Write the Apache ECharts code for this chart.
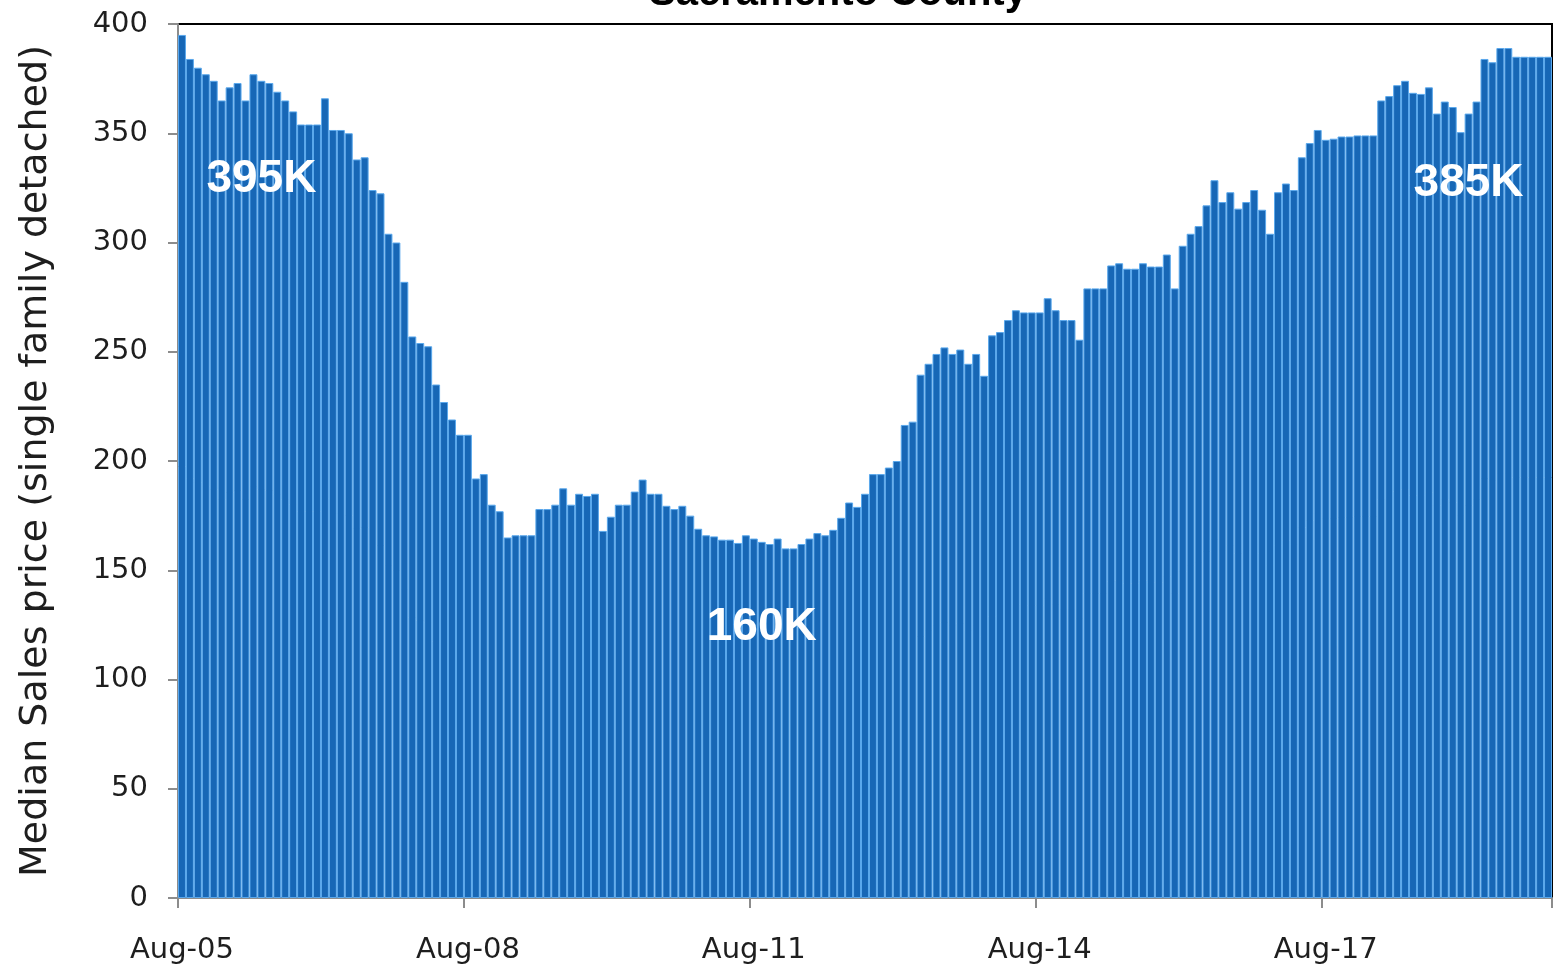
<!DOCTYPE html>
<html>
<head>
<meta charset="utf-8">
<title>Sacramento County</title>
<script src="https://cdn.jsdelivr.net/npm/echarts@6/dist/echarts.min.js"></script>
<style>
  html, body { margin: 0; padding: 0; background: #fff; }
  #chart { width: 1554px; height: 973px; }
</style>
</head>
<body>
<div id="chart"></div>
<script>
// Monthly median sales price, single family detached, in $K, starting Aug 2005
const startYear = 2005;
const startMonth = 7; // 0-based: August
const monthNames = ['Jan', 'Feb', 'Mar', 'Apr', 'May', 'Jun', 'Jul', 'Aug', 'Sep', 'Oct', 'Nov', 'Dec'];

const prices = [
  395, 384, 380, 377, 374, 365, 371, 373, 365, 377,
  374, 373, 369, 365, 360, 354, 354, 354, 366, 351.5,
  351.5, 350, 338, 339, 324, 322.5, 304, 300, 282, 257,
  254, 252.5, 235, 227, 219, 212, 212, 192, 194, 180,
  177, 165, 166, 166, 166, 178, 178, 180, 187.5, 180,
  185, 184, 185, 168, 174.5, 180, 180, 186, 191.5, 185,
  185, 179.5, 178, 179.5, 175, 169, 166, 165.5, 164, 164,
  162.5, 166, 164.5, 163, 162, 164.5, 160, 160, 162, 164.5,
  167, 166, 168.5, 174, 181, 179, 185, 194, 194, 197,
  200, 216.5, 218, 239.5, 244.5, 249, 252, 249, 251, 244.5,
  249, 239, 257.5, 259, 264.5, 269, 268, 268, 268, 274.5,
  269, 264.5, 264.5, 255.5, 279, 279, 279, 289.5, 290.5, 288,
  288, 290.5, 289, 289, 294.5, 279, 298.5, 304, 307.5, 317,
  328.5, 318.5, 323, 315.5, 318.5, 324, 315, 304, 323, 327,
  324, 339, 345.5, 351.5, 347, 347.5, 348.5, 348.5, 349, 349,
  349, 365, 367, 372, 374, 368.5, 368, 371, 359, 364.5,
  362, 350.5, 359, 364.5, 384, 382.5, 389, 389, 385, 385,
  385, 385, 385
];

const yTicks = [0, 50, 100, 150, 200, 250, 300, 350, 400];

// Month labels such as "Aug-05"
const categories = prices.map((_, i) => {
  const m = (startMonth + i) % 12;
  const y = startYear + Math.floor((startMonth + i) / 12);
  return monthNames[m] + '-' + String(y % 100).padStart(2, '0');
});

// Annotated months: the first peak, the trough and the latest value
const peakIdx = 0;
const troughIdx = prices.indexOf(Math.min(...prices));
const lastIdx = prices.length - 1;

const tickFont = '"DejaVu Sans", sans-serif';
const calloutStyle = {
  show: true,
  position: 'inside',
  color: '#fff',
  fontSize: 46,
  fontWeight: 'bold',
  fontFamily: '"Liberation Sans", Arial, sans-serif',
  formatter: p => p.value + 'K'
};

const chart = echarts.init(document.getElementById('chart'), null, { renderer: 'canvas' });

chart.setOption({
  animation: false,
  backgroundColor: '#fff',
  graphic: [{
    type: 'text',
    x: 838,
    y: 14,
    style: {
      text: 'Sacramento County',
      font: 'bold 40px "Liberation Sans", Arial, sans-serif',
      fill: '#000',
      align: 'center',
      verticalAlign: 'bottom'
    }
  }],
  grid: {
    left: 178,
    right: 2,
    top: 24,
    bottom: 75,
    containLabel: false,
    outerBoundsMode: 'none',
    show: true,
    borderColor: '#000',
    borderWidth: 2,
    backgroundColor: 'transparent'
  },
  xAxis: {
    type: 'category',
    data: categories,
    boundaryGap: true,
    axisLine: { show: true, lineStyle: { color: '#8c8c8c', width: 2 } },
    axisTick: { show: true, interval: 35, alignWithLabel: false, length: 10, lineStyle: { color: '#8c8c8c', width: 2 } },
    axisLabel: {
      interval: 35,
      margin: 38,
      color: '#1e1e1e',
      fontSize: 29,
      fontFamily: tickFont
    },
    splitLine: { show: false }
  },
  yAxis: {
    type: 'value',
    min: yTicks[0],
    max: yTicks[yTicks.length - 1],
    interval: 50,
    name: 'Median Sales price (single family detached)',
    nameLocation: 'middle',
    nameGap: 123,
    nameTextStyle: { color: '#1e1e1e', fontSize: 38, fontFamily: tickFont },
    axisLine: { show: true, lineStyle: { color: '#8c8c8c', width: 2 } },
    axisTick: { show: true, length: 10, lineStyle: { color: '#8c8c8c', width: 2 } },
    axisLabel: { margin: 30, color: '#1e1e1e', fontSize: 29, fontFamily: tickFont },
    splitLine: { show: false }
  },
  series: [{
    type: 'bar',
    data: prices,
    barCategoryGap: '0%',
    itemStyle: {
      color: '#1767b6',
      borderColor: '#5aa8ec',
      borderWidth: 1
    },
    markPoint: {
      symbol: 'circle',
      symbolSize: 0,
      label: calloutStyle,
      data: [
        { coord: [categories[10], 329], value: prices[peakIdx] },
        { coord: [categories[73], 124], value: prices[troughIdx] },
        { coord: [categories[162], 327], value: prices[lastIdx] }
      ]
    }
  }]
});
</script>
</body>
</html>
